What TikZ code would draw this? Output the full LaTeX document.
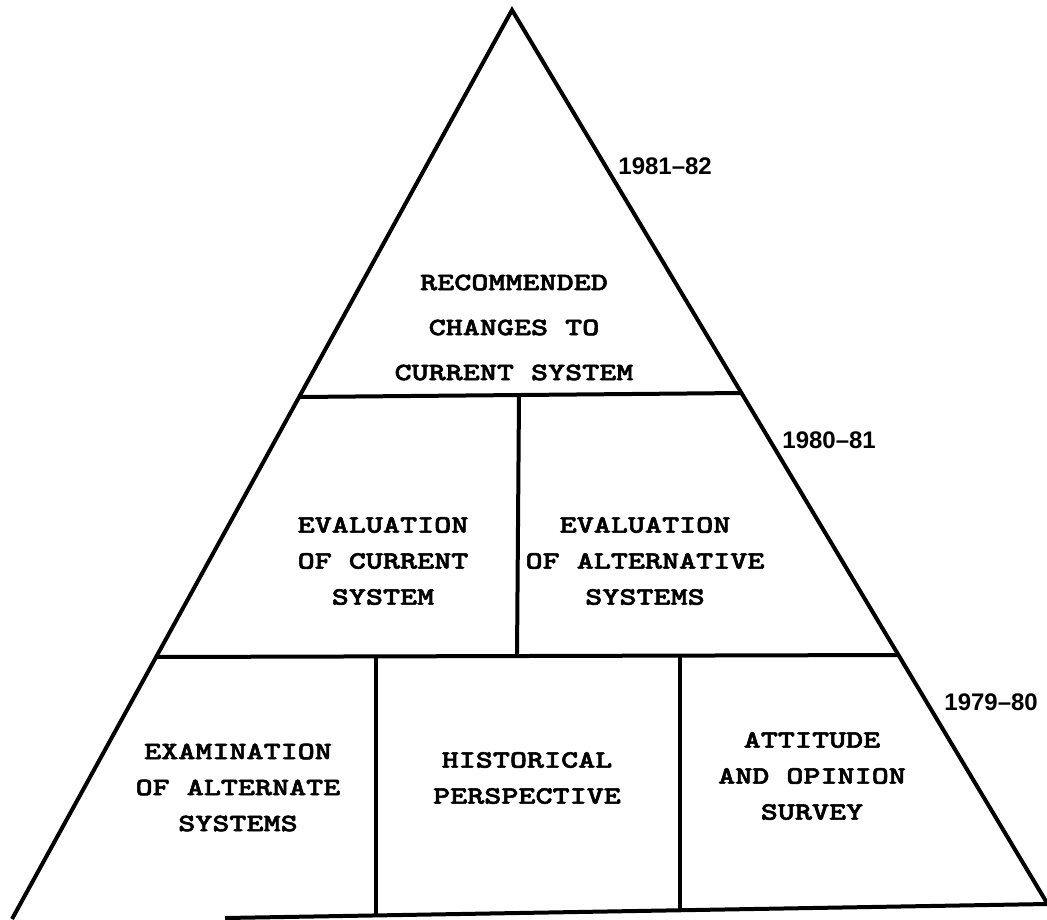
\documentclass[tikz,border=0pt]{standalone}
\usepackage{fontspec}
% heavy slab-serif typewriter face for the cell texts
\newfontfamily\cellfont{lmmonolt10-bold.otf}[FakeStretch=1.3,FakeBold=2.2]
\newfontfamily\yearfont{Liberation Sans}
\begin{document}
\begin{tikzpicture}[x=0.5pt,y=-0.5pt,
  edge/.style={line width=2pt},
  block/.style={align=center, inner sep=0pt,
    font=\cellfont\fontsize{12.5}{18}\selectfont},
  topblock/.style={block, font=\cellfont\fontsize{12.5}{22.5}\selectfont},
  year/.style={anchor=west, inner sep=0pt,
    font=\yearfont\bfseries\fontsize{12}{14}\selectfont}]
\useasboundingbox (0,0) rectangle (1047,919);

% outline of the pyramid
\coordinate (apex) at (512,10);
\coordinate (bl) at (12,919);
\coordinate (br) at (1047,903);
\coordinate (bb1) at (225,918);
\coordinate (bb2) at (1047,904);
\draw[edge] (bl) -- (apex) -- (br);
\draw[edge] (bb1) -- (bb2);

% tier dividers
\coordinate (t1l) at (300,397);
\coordinate (t1r) at (742,393);
\coordinate (t2l) at (155,657);
\coordinate (t2r) at (898,655);
\draw[edge] (t1l) -- (t1r);
\draw[edge] (t2l) -- (t2r);

% cell dividers
\coordinate (v1a) at (519,395);
\coordinate (v1b) at (517,656);
\coordinate (v2a) at (376,656);
\coordinate (v2b) at (376,916);
\coordinate (v3a) at (680,656);
\coordinate (v3b) at (680,911);
\draw[edge] (v1a) -- (v1b);
\draw[edge] (v2a) -- (v2b);
\draw[edge] (v3a) -- (v3b);

% cell texts
\node[topblock] (rec) at (514,327.5) {RECOMMENDED\\CHANGES TO\\CURRENT SYSTEM};
\node[block] (evcur) at (383,561) {EVALUATION\\OF CURRENT\\SYSTEM};
\node[block] (evalt) at (645,561) {EVALUATION\\OF ALTERNATIVE\\SYSTEMS};
\node[block] (exam) at (238,787.5) {EXAMINATION\\OF ALTERNATE\\SYSTEMS};
\node[block] (hist) at (527,778) {HISTORICAL\\PERSPECTIVE};
\node[block] (att) at (812,776) {ATTITUDE\\AND OPINION\\SURVEY};

% school years
\node[year] (y1) at (618,166) {1981–82};
\node[year] (y2) at (782,440) {1980–81};
\node[year] (y3) at (944,702) {1979–80};
\end{tikzpicture}
\end{document}
